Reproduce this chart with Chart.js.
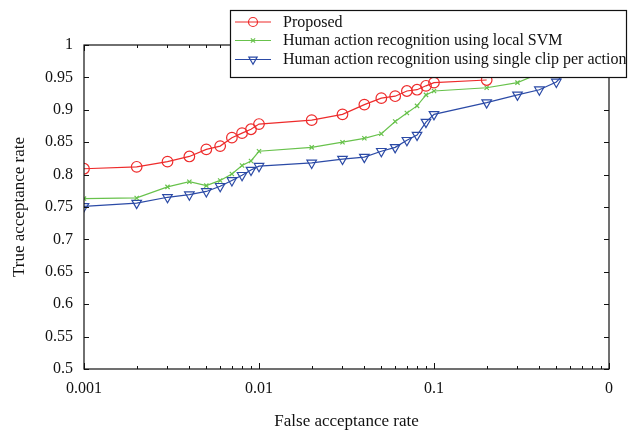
<!DOCTYPE html>
<html>
<head>
<meta charset="utf-8">
<script src="https://cdn.jsdelivr.net/npm/chart.js@4"></script>
<style>
  html, body { margin: 0; padding: 0; background: #fff; }
  #myChart { display: block; }
</style>
</head>
<body>
<canvas id="myChart" width="628" height="434"></canvas>
<script>
// false acceptance rates (x) and true acceptance rates (y)
const farSmall = [0.001, 0.002, 0.003, 0.004, 0.005, 0.006, 0.007, 0.008, 0.009, 0.01,
                  0.02, 0.03, 0.04, 0.05, 0.06, 0.07, 0.08, 0.09, 0.1, 0.2];
const proposedFar = farSmall;
const proposedTar = [0.809, 0.812, 0.820, 0.828, 0.839, 0.844, 0.857, 0.864, 0.870, 0.878,
                     0.884, 0.893, 0.908, 0.918, 0.921, 0.929, 0.931, 0.937, 0.942, 0.946];
const svmFar = farSmall.concat([0.3, 0.4]);
const svmTar = [0.763, 0.764, 0.781, 0.789, 0.783, 0.791, 0.801, 0.814, 0.821, 0.836,
                0.842, 0.850, 0.856, 0.863, 0.882, 0.895, 0.906, 0.923, 0.929, 0.934, 0.942, 0.956];
const clipFar = farSmall.concat([0.3, 0.4, 0.5, 0.6]);
const clipTar = [0.751, 0.756, 0.765, 0.769, 0.774, 0.782, 0.791, 0.799, 0.807, 0.813,
                 0.818, 0.824, 0.827, 0.836, 0.842, 0.853, 0.861, 0.881, 0.893, 0.911, 0.923, 0.931, 0.943, 0.965];

const seriesNames = ['Proposed', 'Human action recognition using local SVM', 'Human action recognition using single clip per action'];
const xTickValues = [0.001, 0.01, 0.1, 1];
const xTickLabels = ['0.001', '0.01', '0.1', '0'];
const yTickValues = [0.5, 0.55, 0.6, 0.65, 0.7, 0.75, 0.8, 0.85, 0.9, 0.95, 1];
const yTickLabels = ['0.5', '0.55', '0.6', '0.65', '0.7', '0.75', '0.8', '0.85', '0.9', '0.95', '1'];

const serif = 'Liberation Serif, Times New Roman, serif';

function pts(xs, ys) {
    return xs.map((x, i) => ({ x: x, y: ys[i] }));
}

// box around the plot with inward ticks (major + log minor on x)
const frameTicks = {
    id: 'frameTicks',
    afterDatasetsDraw(chart) {
        const { ctx, chartArea: a, scales: { x, y } } = chart;
        ctx.save();
        ctx.strokeStyle = '#111';
        ctx.lineWidth = 1.2;
        ctx.strokeRect(a.left, a.top, a.right - a.left, a.bottom - a.top);
        ctx.lineWidth = 1;
        ctx.beginPath();
        for (let d = 0.001; d < 1; d *= 10) {
            for (let m = 1; m <= 10; m++) {
                const px = Math.round(x.getPixelForValue(m * d)) + 0.5;
                const len = (m === 1 || m === 10) ? 6 : 3;
                ctx.moveTo(px, a.bottom); ctx.lineTo(px, a.bottom - len);
                ctx.moveTo(px, a.top); ctx.lineTo(px, a.top + len);
            }
        }
        yTickValues.forEach(v => {
            const py = Math.round(y.getPixelForValue(v)) + 0.5;
            ctx.moveTo(a.left, py); ctx.lineTo(a.left + 5, py);
            ctx.moveTo(a.right, py); ctx.lineTo(a.right - 5, py);
        });
        ctx.stroke();
        ctx.restore();
    }
};

// boxed legend drawn over the top right of the plot
const boxLegend = {
    id: 'boxLegend',
    afterDraw(chart) {
        const ctx = chart.ctx;
        const bx = 230.5, by = 10.5, bw = 396, bh = 67;
        ctx.save();
        ctx.fillStyle = '#fff';
        ctx.fillRect(bx, by, bw, bh);
        ctx.strokeStyle = '#111';
        ctx.lineWidth = 1.2;
        ctx.strokeRect(bx, by, bw, bh);
        const rows = [22, 40.5, 59.5];
        const legendRadius = [4.5, 3, 4.8];
        chart.data.datasets.forEach((ds, i) => {
            const yy = rows[i];
            ctx.strokeStyle = ds.borderColor;
            ctx.lineWidth = ds.borderWidth;
            ctx.beginPath();
            ctx.moveTo(235, yy); ctx.lineTo(271, yy);
            ctx.stroke();
            ctx.fillStyle = 'rgba(0,0,0,0)';
            Chart.helpers.drawPoint(ctx, {
                pointStyle: ds.pointStyle,
                radius: legendRadius[i],
                rotation: ds.pointRotation || 0,
                borderWidth: ds.pointBorderWidth
            }, 253, yy);
            ctx.fillStyle = '#111';
            ctx.font = '16px ' + serif;
            ctx.textBaseline = 'middle';
            ctx.textAlign = 'left';
            ctx.fillText(ds.label, 283, yy + 0.5);
        });
        ctx.restore();
    }
};

const ctx = document.getElementById('myChart').getContext('2d');
const myChart = new Chart(ctx, {
    type: 'line',
    data: {
        datasets: [{
            label: seriesNames[0],
            data: pts(proposedFar, proposedTar),
            borderColor: '#ee2b2b',
            backgroundColor: 'rgba(0,0,0,0)',
            borderWidth: 1.2,
            pointStyle: 'circle',
            pointRadius: 5.3,
            pointBorderWidth: 1.2
        }, {
            label: seriesNames[1],
            data: pts(svmFar, svmTar),
            borderColor: '#68c24c',
            backgroundColor: 'rgba(0,0,0,0)',
            borderWidth: 1.2,
            pointStyle: 'crossRot',
            pointRadius: 3,
            pointBorderWidth: 1.2
        }, {
            label: seriesNames[2],
            data: pts(clipFar, clipTar),
            borderColor: '#2b4aa6',
            backgroundColor: 'rgba(0,0,0,0)',
            borderWidth: 1.2,
            pointStyle: 'triangle',
            pointRotation: 180,
            pointRadius: 5.5,
            pointBorderWidth: 1.2
        }]
    },
    options: {
        responsive: false,
        animation: false,
        layout: { padding: { top: 45, right: 19, left: 0, bottom: 0 } },
        plugins: {
            legend: { display: false },
            tooltip: { enabled: false }
        },
        scales: {
            x: {
                type: 'logarithmic',
                min: 0.001,
                max: 1,
                afterBuildTicks: s => { s.ticks = xTickValues.map(v => ({ value: v })); },
                afterFit: s => { s.height = 65; },
                grid: { display: false, drawTicks: false },
                border: { display: false },
                ticks: {
                    padding: 10,
                    autoSkip: false,
                    maxRotation: 0,
                    color: '#111',
                    font: { family: serif, size: 16 },
                    callback: (v, i) => xTickLabels[i]
                },
                title: {
                    display: true,
                    text: 'False acceptance rate',
                    color: '#111',
                    font: { family: serif, size: 17 },
                    padding: { top: 0, bottom: 2 }
                }
            },
            y: {
                type: 'linear',
                min: 0.5,
                max: 1,
                afterBuildTicks: s => { s.ticks = yTickValues.map(v => ({ value: v })); },
                afterFit: s => { s.width = 84; },
                grid: { display: false, drawTicks: false },
                border: { display: false },
                ticks: {
                    padding: 11,
                    color: '#111',
                    font: { family: serif, size: 16 },
                    callback: (v, i) => yTickLabels[i]
                },
                title: {
                    display: true,
                    text: 'True acceptance rate',
                    color: '#111',
                    font: { family: serif, size: 17 },
                    padding: { top: 9, bottom: 0 }
                }
            }
        }
    },
    plugins: [frameTicks, boxLegend]
});
</script>
</body>
</html>
